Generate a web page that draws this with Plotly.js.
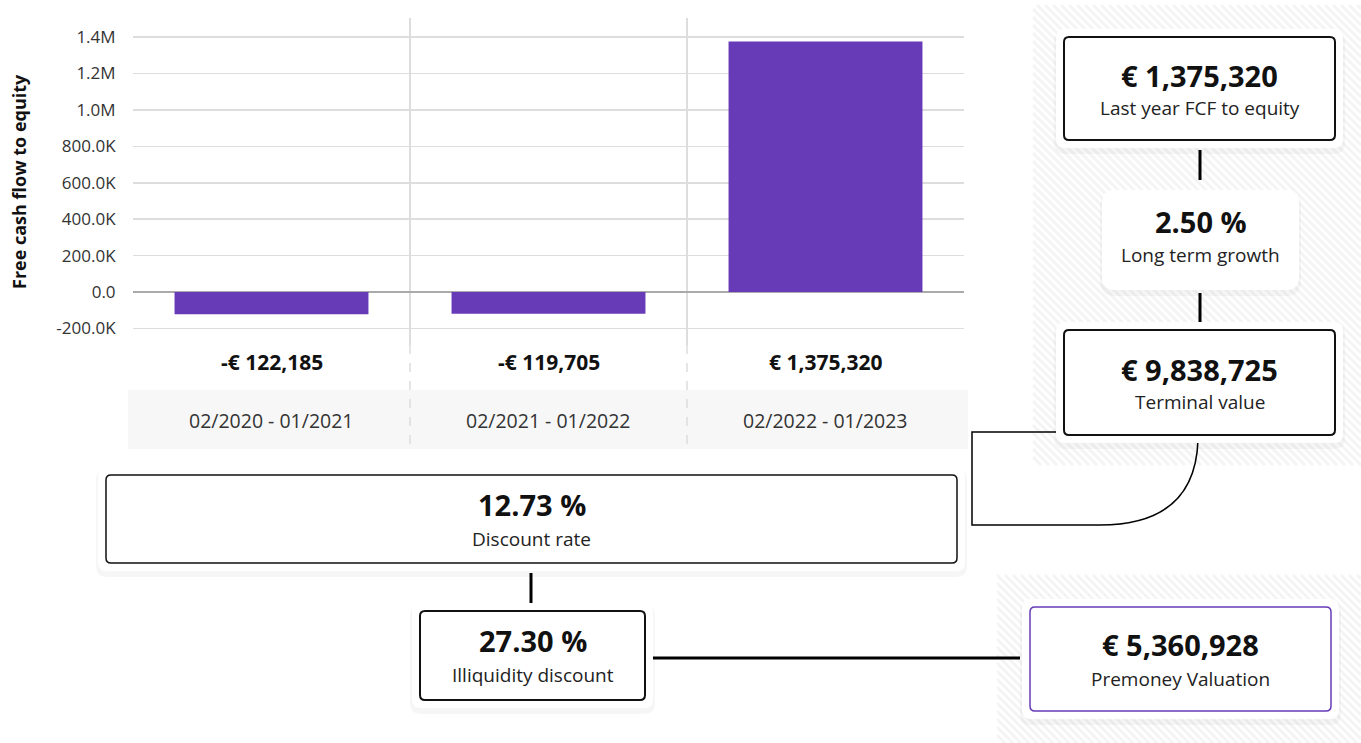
<!DOCTYPE html>
<html>
<head>
<meta charset="utf-8">
<script src="https://cdn.plot.ly/plotly-3.0.1.min.js"></script>
<style>
  html, body { margin: 0; padding: 0; background: #ffffff; }
  #chart { width: 1361px; height: 743px; }
</style>
</head>
<body>
<div id="chart"></div>
<script>
// ---------- data ----------
const categories = ['02/2020 - 01/2021', '02/2021 - 01/2022', '02/2022 - 01/2023'];
const fcfValues = [-122185, -119705, 1375320];
const yTickVals = [-200000, 0, 200000, 400000, 600000, 800000, 1000000, 1200000, 1400000];
const yTickText = ['-200.0K', '0.0', '200.0K', '400.0K', '600.0K', '800.0K', '1.0M', '1.2M', '1.4M'];
const yTitle = 'Free cash flow to equity';
const nodeValues = ['€ 1,375,320', '2.50 %', '€ 9,838,725', '12.73 %', '27.30 %', '€ 5,360,928'];
const nodeLabels = ['Last year FCF to equity', 'Long term growth', 'Terminal value', 'Discount rate', 'Illiquidity discount', 'Premoney Valuation'];

// ---------- helpers (page pixels -> paper) ----------
const W = 1361, H = 743;
const FONT = '"Open Sans", Lato, sans-serif';
const px = x => x / W;
const py = y => 1 - y / H;
function fmtEuro(v) {
  const s = Math.abs(v).toLocaleString('en-US');
  return (v < 0 ? '-€ ' : '€ ') + s;
}
function rrect(x0, y0, x1, y1, r) {
  const P = (x, y) => px(x).toFixed(5) + ',' + py(y).toFixed(5);
  return 'M' + P(x0 + r, y0) + ' L' + P(x1 - r, y0) + ' Q' + P(x1, y0) + ' ' + P(x1, y0 + r) +
    ' L' + P(x1, y1 - r) + ' Q' + P(x1, y1) + ' ' + P(x1 - r, y1) +
    ' L' + P(x0 + r, y1) + ' Q' + P(x0, y1) + ' ' + P(x0, y1 - r) +
    ' L' + P(x0, y0 + r) + ' Q' + P(x0, y0) + ' ' + P(x0 + r, y0) + ' Z';
}
function hatch(x0, y0, x1, y1, step) {
  let d = '';
  for (let c = x0 - y1; c <= x1 - y0; c += step) {
    const ya = Math.max(y0, x0 - c), yb = Math.min(y1, x1 - c);
    if (yb > ya) {
      d += 'M' + px(ya + c).toFixed(5) + ',' + py(ya).toFixed(5) + ' L' + px(yb + c).toFixed(5) + ',' + py(yb).toFixed(5) + ' ';
    }
  }
  return d;
}

const shapes = [];
const annotations = [];

// hatched backgrounds
shapes.push({type: 'path', xref: 'paper', yref: 'paper', layer: 'below', path: hatch(1033, 5, 1361, 465, 8), line: {color: '#f4f4f4', width: 3}});
shapes.push({type: 'path', xref: 'paper', yref: 'paper', layer: 'below', path: hatch(997, 575, 1361, 743, 8), line: {color: '#f4f4f4', width: 3}});

// grey band behind period labels
shapes.push({type: 'rect', xref: 'paper', yref: 'paper', layer: 'below', x0: px(128), x1: px(968), y0: py(449), y1: py(390), fillcolor: '#f7f7f7', line: {width: 0}});
// dashed divider continuation below the plot
[0.5, 1.5].forEach(b => {
  shapes.push({type: 'line', xref: 'x', yref: 'paper', layer: 'below', x0: b, x1: b, y0: py(345), y1: py(450), line: {color: '#dddddd', width: 1.5, dash: 'dash'}});
});

// node boxes
const boxes = [
  {x0: 1064, y0: 37, x1: 1335, y1: 140, border: '#111111', bw: 2, r: 5, vy: 75, ly: 108},
  {x0: 1102, y0: 190, x1: 1299, y1: 290, border: null, bw: 0, r: 9, vy: 221, ly: 255},
  {x0: 1064, y0: 330, x1: 1335, y1: 435, border: '#111111', bw: 2, r: 5, vy: 369, ly: 402},
  {x0: 106, y0: 475, x1: 957, y1: 563, border: '#111111', bw: 1.5, r: 5, vy: 505, ly: 539},
  {x0: 420, y0: 611, x1: 645, y1: 700, border: '#111111', bw: 2, r: 5, vy: 640, ly: 675},
  {x0: 1030, y0: 607, x1: 1331, y1: 711, border: '#673ab7', bw: 1.5, r: 5, vy: 644, ly: 679}
];

// connectors
const conn = [
  [1200, 150, 1200, 180],
  [1200, 293, 1200, 322],
  [531, 573, 531, 603],
  [652, 658, 1020, 658]
];
conn.forEach(c => shapes.push({type: 'line', xref: 'paper', yref: 'paper', x0: px(c[0]), y0: py(c[1]), x1: px(c[2]), y1: py(c[3]), line: {color: '#000000', width: 3}}));
const P = (x, y) => px(x).toFixed(5) + ',' + py(y).toFixed(5);
shapes.push({type: 'path', xref: 'paper', yref: 'paper',
  path: 'M' + P(1198, 440) + ' C' + P(1196, 500) + ' ' + P(1160, 525) + ' ' + P(1100, 525) + ' L' + P(972, 525) + ' L' + P(972, 432) + ' L' + P(1057, 432),
  line: {color: '#000000', width: 1.5}});

boxes.forEach((b, i) => {
  const pad = (i === 1) ? 0 : 8;
  // soft shadow
  shapes.push({type: 'path', xref: 'paper', yref: 'paper', path: rrect(b.x0 - pad - 2, b.y0 - pad + 2, b.x1 + pad + 2, b.y1 + pad + 6, b.r + 6), fillcolor: 'rgba(0,0,0,0.035)', line: {width: 0}});
  shapes.push({type: 'path', xref: 'paper', yref: 'paper', path: rrect(b.x0 - pad, b.y0 - pad, b.x1 + pad, b.y1 + pad, b.r + 4), fillcolor: '#ffffff', line: {width: 0}});
  if (b.border) {
    shapes.push({type: 'path', xref: 'paper', yref: 'paper', path: rrect(b.x0, b.y0, b.x1, b.y1, b.r), fillcolor: '#ffffff', line: {color: b.border, width: b.bw}});
  }
  const cx = (b.x0 + b.x1) / 2;
  annotations.push({xref: 'paper', yref: 'paper', x: px(cx), y: py(b.vy), text: '<b>' + nodeValues[i] + '</b>', showarrow: false, borderpad: 0, xanchor: 'center', yanchor: 'middle', font: {family: FONT, size: 29, color: '#111111'}});
  annotations.push({xref: 'paper', yref: 'paper', x: px(cx), y: py(b.ly), text: nodeLabels[i], showarrow: false, borderpad: 0, xanchor: 'center', yanchor: 'middle', font: {family: FONT, size: 19, color: '#222222'}});
});

// bar value labels and period labels
const xIdx = categories.map((c, i) => i);
xIdx.forEach(i => {
  annotations.push({xref: 'x', yref: 'paper', x: i, y: py(362), text: '<b>' + fmtEuro(fcfValues[i]) + '</b>', showarrow: false, xanchor: 'center', yanchor: 'middle', font: {family: FONT, size: 21, color: '#111111'}});
  annotations.push({xref: 'x', yref: 'paper', x: i, y: py(420), text: categories[i], showarrow: false, xanchor: 'center', yanchor: 'middle', font: {family: FONT, size: 19.5, color: '#333333'}});
});

// y axis title (placed precisely at the left edge)
annotations.push({xref: 'paper', yref: 'paper', x: px(19), y: py(182), text: '<b>' + yTitle + '</b>', textangle: -90, showarrow: false, xanchor: 'center', yanchor: 'middle', font: {family: FONT, size: 18, color: '#111111'}});

const trace = {
  type: 'bar',
  x: xIdx,
  y: fcfValues,
  width: 0.7,
  marker: {color: '#673ab7'},
  hoverinfo: 'skip'
};

const layout = {
  width: W, height: H,
  margin: {l: 0, r: 0, t: 0, b: 0},
  paper_bgcolor: '#ffffff',
  plot_bgcolor: 'rgba(0,0,0,0)',
  showlegend: false,
  font: {family: FONT, color: '#333333'},
  xaxis: {
    domain: [px(133), px(964)],
    range: [-0.5, 2.5],
    tickvals: [0.5, 1.5],
    showticklabels: false,
    showgrid: true, gridcolor: '#dddddd', gridwidth: 1.5,
    zeroline: false, showline: false, ticks: '', fixedrange: true
  },
  yaxis: {
    domain: [py(345), py(18)],
    range: [-291000, 1505000],
    tickvals: yTickVals,
    ticktext: yTickText,
    ticks: 'outside', ticklen: 13, tickcolor: 'rgba(0,0,0,0)',
    tickfont: {family: FONT, size: 17, color: '#333333'},
    showgrid: true, gridcolor: '#dddddd', gridwidth: 1.5,
    zeroline: true, zerolinecolor: '#aaaaaa', zerolinewidth: 1.5,
    showline: false,
    fixedrange: true
  },
  shapes: shapes,
  annotations: annotations
};

Plotly.newPlot('chart', [trace], layout, {displayModeBar: false, staticPlot: true});
</script>
</body>
</html>
